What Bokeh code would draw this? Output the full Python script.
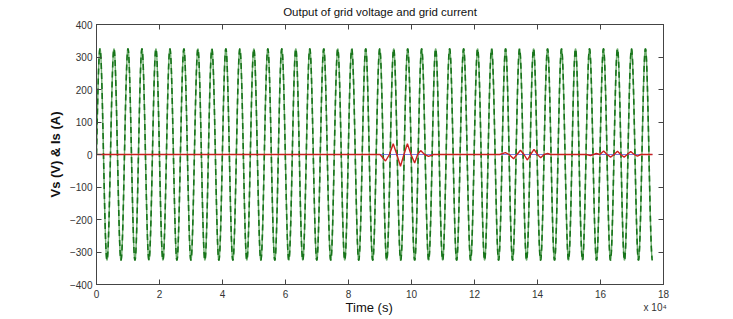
import numpy as np
from bokeh.plotting import figure
from bokeh.models import Range1d, LinearAxis, FixedTicker
from bokeh.embed import file_html
from bokeh.resources import INLINE

# ---- data (time in units of 1e4 samples) ----
V_AMPLITUDE = 325.0
V_PERIOD = 0.444
T_END = 17.65

x_ticks = [0, 2, 4, 6, 8, 10, 12, 14, 16, 18]
y_ticks = [-400, -300, -200, -100, 0, 100, 200, 300, 400]

# grid current: zero line with three disturbance bursts (extrema + zero crossings)
i_time = [0.0,
          9.0, 9.175, 9.30, 9.42, 9.535, 9.65, 9.76, 9.87, 9.985, 10.1, 10.195, 10.29, 10.415, 10.54, 10.7,
          12.8, 12.98, 13.1, 13.24, 13.35, 13.46, 13.57, 13.68, 13.78, 13.89, 14.0, 14.1, 14.21, 14.32, 14.42,
          15.55, 15.68, 15.78, 15.87, 15.98, 16.1, 16.21, 16.32, 16.43, 16.54, 16.64, 16.75, 16.85, 16.96, 17.07, 17.17, 17.28,
          17.65]
i_value = [0.0,
           0, -20, 0, 33, 0, -36, 0, 33, 0, -26, 0, 12, 0, -6, 0,
           0, 6, 0, -13, 0, 13, 0, -17, 0, 16, 0, -10, 0, 3, 0,
           0, -3, 0, 3, 0, 11, 0, -8, 0, 10, 0, -8, 0, 9, 0, -5, 0,
           0]
ref_time = [0.0, 17.65]
ref_value = [0.0, 0.0]

TITLE = "Output of grid voltage and grid current"

t = np.linspace(0, T_END, 6000)
v = V_AMPLITUDE * np.sin(2 * np.pi * t / V_PERIOD)

FONT = "Liberation Sans"
AX = "#444444"

p = figure(width=733, height=319, output_backend="svg", toolbar_location=None,
           x_range=Range1d(0, 18), y_range=Range1d(-400, 400),
           min_border_left=96, min_border_right=70, min_border_top=24, min_border_bottom=35)
p.grid.visible = False
p.outline_line_color = AX
p.background_fill_color = "white"
p.border_fill_color = "white"

p.line(t, v, line_color="#6fae6f", line_width=1.4)
p.line(t, v, line_color="#17741a", line_width=1.6, line_dash="6 4")
p.line(ref_time, ref_value, line_color="#5a5ad8", line_width=0.8)
p.line(i_time, i_value, line_color="#cc2020", line_width=1.4)

for ax in (p.xaxis[0], p.yaxis[0]):
    ax.major_tick_in = 5
    ax.major_tick_out = 0
    ax.minor_tick_in = 0
    ax.minor_tick_out = 0
    ax.axis_line_color = AX
    ax.major_tick_line_color = AX
    ax.major_label_text_font = FONT
    ax.major_label_text_font_size = "10px"
    ax.major_label_text_color = "#333333"
    ax.major_label_standoff = 4
    ax.axis_label_text_font = FONT
    ax.axis_label_text_font_size = "13px"
    ax.axis_label_text_color = "#111111"

p.xaxis[0].ticker = FixedTicker(ticks=x_ticks)
p.xaxis[0].major_label_overrides = {18: "18\nx 10\u2074" + "\u00a0" * 6}
p.yaxis[0].ticker = FixedTicker(ticks=y_ticks)
p.yaxis[0].axis_label = "Vs (V) & Is (A)"
p.yaxis[0].axis_label_text_font_style = "bold"
p.yaxis[0].axis_label_standoff = 4
p.xaxis[0].axis_label = "Time (s)" + "\u00a0" * 6
p.xaxis[0].axis_label_text_font_style = "normal"
p.xaxis[0].axis_label_standoff = -16

top = LinearAxis(ticker=FixedTicker(ticks=x_ticks),
                 major_label_overrides={k: "" for k in x_ticks})
right = LinearAxis(ticker=FixedTicker(ticks=y_ticks),
                   major_label_overrides={k: "" for k in y_ticks})
for ax in (top, right):
    ax.major_tick_in = 5
    ax.major_tick_out = 0
    ax.minor_tick_in = 0
    ax.minor_tick_out = 0
    ax.axis_line_color = AX
    ax.major_tick_line_color = AX
    ax.major_label_standoff = 0
top.axis_label = TITLE
top.axis_label_text_font = FONT
top.axis_label_text_font_size = "11.5px"
top.axis_label_text_font_style = "normal"
top.axis_label_text_color = "#111111"
top.axis_label_standoff = 7
p.add_layout(top, "above")
p.add_layout(right, "right")

open("out.html", "w").write(file_html(p, INLINE))
